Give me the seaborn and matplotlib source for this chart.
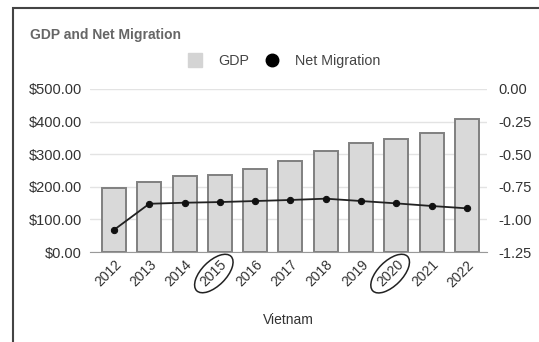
import numpy as np
import pandas as pd
import matplotlib.pyplot as plt
import seaborn as sns
from matplotlib.patches import Rectangle
from matplotlib.lines import Line2D

years = ['2012', '2013', '2014', '2015', '2016', '2017', '2018', '2019', '2020', '2021', '2022']
gdp = [196, 216, 234, 236, 255, 280, 311, 333, 346, 364, 408]
net_migration = [-1.08, -0.88, -0.872, -0.867, -0.859, -0.851, -0.841, -0.859, -0.877, -0.897, -0.915]
circled = ['2015', '2020']

sns.set_style("white")
plt.rcParams['font.family'] = ['Liberation Sans', 'DejaVu Sans']

df = pd.DataFrame({'year': years, 'gdp': gdp, 'mig': net_migration})

fig = plt.figure(figsize=(5.39, 3.42), dpi=100)
ax = fig.add_axes([0.167, 0.263, 0.737, 0.477])

sns.barplot(data=df, x='year', y='gdp', ax=ax, color='#d9d9d9', width=0.68,
            edgecolor='#808080', linewidth=1.4, saturation=1)

ax.set_ylim(0, 500)
ax.set_yticks(range(0, 501, 100))
ax.set_yticklabels([f"${v:.2f}" for v in range(0, 501, 100)])
ax.set_xlim(-0.68, 10.58)
ax.grid(axis='y', color='#e3e3e3', linewidth=1)
ax.set_axisbelow(True)
for s in ['top', 'right', 'left']:
    ax.spines[s].set_visible(False)
ax.spines['bottom'].set_color('#999999')
ax.tick_params(axis='y', length=0, labelsize=10.5, labelcolor='#333333', pad=6)
ax.tick_params(axis='x', length=0, labelsize=10, labelcolor='#333333', pad=4)
plt.setp(ax.get_xticklabels(), rotation=45, ha='right', rotation_mode='anchor')
for lab in ax.get_xticklabels():
    if lab.get_text() in circled:
        lab.set_bbox(dict(boxstyle='ellipse,pad=0.12', fc='none', ec='#222222', lw=1.1))
ax.set_ylabel('')
ax.set_xlabel('Vietnam', fontsize=10, color='#333333', labelpad=17)

ax2 = ax.twinx()
sns.lineplot(x=np.arange(len(years)), y=df['mig'], ax=ax2, color='#222222',
             linewidth=1.3, marker='o', markersize=4.5, markeredgecolor='#111111',
             markerfacecolor='#111111')
ax2.set_ylim(-1.25, 0)
ax2.set_yticks(np.arange(-1.25, 0.01, 0.25))
ax2.set_yticklabels([f"{v:.2f}" for v in np.arange(-1.25, 0.01, 0.25)])
ax2.set_ylabel('')
for s in ax2.spines.values():
    s.set_visible(False)
ax2.tick_params(axis='y', length=0, labelsize=10.5, labelcolor='#333333', pad=8)
ax2.set_xlim(ax.get_xlim())

fig.text(0.056, 0.885, 'GDP and Net Migration', fontsize=10, fontweight='bold', color='#666666')

handles = [Line2D([], [], marker='s', linestyle='', markersize=10, color='#d4d4d4', label='GDP'),
           Line2D([], [], marker='o', linestyle='', markersize=9, color='#000000', label='Net Migration')]
fig.legend(handles=handles, loc='center', bbox_to_anchor=(0.52, 0.822), ncol=2, frameon=False,
           fontsize=10.3, labelcolor='#444444', handletextpad=0.6, columnspacing=0.6)

fig.patches.append(Rectangle((13 / 539, -0.1), 1.2, 1 - 8 / 342 + 0.1, transform=fig.transFigure,
                             fill=False, edgecolor='#444444', linewidth=1.5))

fig.savefig('out.png', dpi=100)
